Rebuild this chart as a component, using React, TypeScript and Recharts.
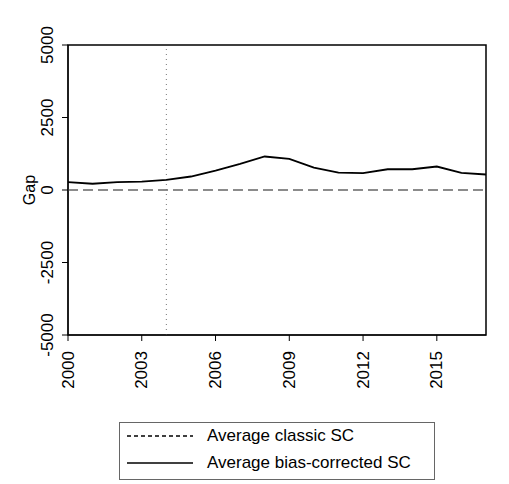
import { LineChart, Line, XAxis, YAxis, ReferenceLine, ReferenceArea } from "recharts";

const years = [2000, 2001, 2002, 2003, 2004, 2005, 2006, 2007, 2008, 2009, 2010, 2011, 2012, 2013, 2014, 2015, 2016, 2017];
const biasCorrected = [270, 215, 270, 290, 350, 465, 670, 900, 1155, 1075, 775, 600, 580, 715, 715, 810, 590, 535];
const xTicks = [2000, 2003, 2006, 2009, 2012, 2015];
const yTicks = [-5000, -2500, 0, 2500, 5000];
const treatmentYear = 2004;

const data = years.map((year, i) => ({ year, gap: biasCorrected[i] }));

const font = "'Liberation Sans', Arial, sans-serif";

function XTick({ x, y, payload }: any) {
  return (
    <text x={x} y={y + 8} transform={`rotate(-90, ${x}, ${y + 8})`} textAnchor="end" dominantBaseline="central" fontSize={17} fill="#000" fontFamily={font}>
      {payload.value}
    </text>
  );
}

function YTick({ x, y, payload }: any) {
  return (
    <text x={x - 13} y={y} transform={`rotate(-90, ${x - 13}, ${y})`} textAnchor="middle" dominantBaseline="central" fontSize={17} fill="#000" fontFamily={font}>
      {payload.value}
    </text>
  );
}

export default function App() {
  return (
    <div style={{ position: "absolute", left: 0, top: 0, width: 509, height: 484, background: "#fff", fontFamily: font }}>
      <LineChart width={509} height={400} data={data} margin={{ top: 45, right: 23, bottom: 15, left: 0 }}>
        <XAxis
          dataKey="year"
          type="number"
          domain={[2000, 2017]}
          ticks={xTicks}
          interval={0}
          tick={<XTick />}
          tickSize={6}
          height={50}
          stroke="#000"
          allowDataOverflow
        />
        <YAxis
          type="number"
          domain={[-5000, 5000]}
          ticks={yTicks}
          interval={0}
          tick={<YTick />}
          tickSize={6}
          width={68}
          stroke="#000"
          label={{ value: "Gap", angle: -90, position: "insideLeft", offset: 29, style: { fontSize: 16, fill: "#000", fontFamily: font, textAnchor: "middle" } }}
        />
        <ReferenceArea x1={2000} x2={2017} y1={-5000} y2={5000} fill="none" stroke="#000" strokeWidth={1.5} />
        <ReferenceLine y={0} stroke="#666" strokeWidth={1.5} strokeDasharray="10 5" />
        <ReferenceLine x={treatmentYear} stroke="#777" strokeWidth={1} strokeDasharray="1 4" />
        <Line type="linear" dataKey="gap" stroke="#000" strokeWidth={1.8} dot={false} isAnimationActive={false} />
      </LineChart>
      <div style={{ position: "absolute", left: 119, top: 422, width: 316, height: 58, border: "1px solid #666", boxSizing: "border-box", fontSize: 17, color: "#000" }}>
        <svg style={{ position: "absolute", left: 0, top: 0 }} width={90} height={56}>
          <line x1={7} x2={73} y1={13} y2={13} stroke="#000" strokeWidth={1.5} strokeDasharray="4 3" />
          <line x1={7} x2={73} y1={40} y2={40} stroke="#000" strokeWidth={1.5} />
        </svg>
        <div style={{ position: "absolute", left: 87, top: 3, whiteSpace: "nowrap" }}>Average classic SC</div>
        <div style={{ position: "absolute", left: 87, top: 30, whiteSpace: "nowrap" }}>Average bias-corrected SC</div>
      </div>
    </div>
  );
}
